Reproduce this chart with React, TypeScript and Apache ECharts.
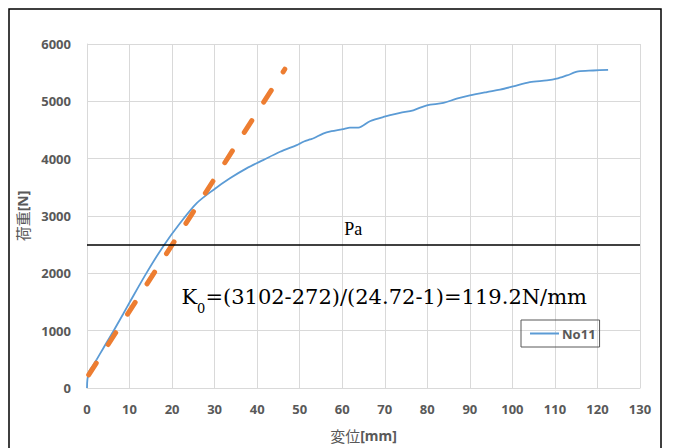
import { useEffect, useRef } from "react";
import * as echarts from "echarts";

// Displacement [mm] and load [N] of specimen No11
const dispX = [0, 0.1, 0.5, 1.5, 2.3, 3.8, 6.2, 8.5, 10.3, 14.0, 17.9, 21.9, 25.8, 29.7, 33.6, 37.5, 41.4, 45.4, 49.3, 50.1, 51.0, 52.4, 53.4, 55.5, 57.5, 59.5, 60.5, 61.8, 63.8, 66.5, 69.7, 73.6, 76.7, 79.9, 83.8, 86.9, 90.0, 94.0, 97.1, 100.2, 104.1, 108.1, 110.4, 112.8, 115.5, 119.0, 122.5];
const loadY = [0, 150, 290, 400, 500, 690, 990, 1290, 1530, 2008, 2470, 2877, 3224, 3455, 3657, 3830, 3975, 4120, 4236, 4266, 4300, 4335, 4360, 4438, 4480, 4507, 4520, 4542, 4542, 4653, 4728, 4797, 4844, 4931, 4971, 5047, 5104, 5162, 5203, 5260, 5335, 5364, 5394, 5451, 5521, 5538, 5550];

// Initial stiffness tangent line (K0)
const tangentX = [0.4, 46.5];
const tangentY = [230, 5560];

// Pa horizontal line
const paLoad = 2500;
const paSpanX = [0, 130];

// Axis ranges
const xRange = [0, 130];
const xStep = 10;
const yRange = [0, 6000];
const yStep = 1000;

// Annotation anchor points (data coords)
const paLabelAt = [62.6, 2778];
const k0LabelAt = [22.2, 1520];

const seriesName = "No11";
const xTitle = "変位";
const xUnit = "[mm]";
const yTitle = "荷重";
const yUnit = "[N]";
const k0Text = "=(3102-272)/(24.72-1)=119.2N/mm";

export default function App() {
  const ref = useRef<HTMLDivElement>(null);
  useEffect(() => {
    if (!ref.current) return;
    const chart = echarts.init(ref.current, undefined, { renderer: "svg" });
    const axisGray = "#595959";
    const gridGray = "#D9D9D9";
    const labelFont = "'Noto Sans', 'Liberation Sans', sans-serif";
    const serif = "'Liberation Serif', 'DejaVu Serif', serif";
    const wideSerif = "'DejaVu Serif', 'Liberation Serif', serif";
    chart.setOption({
      animation: false,
      backgroundColor: "#ffffff",
      grid: { left: 87, right: 35, top: 44, bottom: 59, containLabel: false },
      legend: {
        data: [seriesName],
        left: 521,
        top: 320,
        padding: [7, 4, 7, 9],
        borderColor: axisGray,
        borderWidth: 1,
        icon: "rect",
        itemWidth: 29,
        itemHeight: 2,
        itemGap: 0,
        textStyle: { color: axisGray, fontWeight: "bold", fontSize: 13, fontFamily: labelFont, padding: [0, 0, 0, -2] },
      },
      xAxis: {
        type: "value",
        min: xRange[0],
        max: xRange[1],
        interval: xStep,
        name: `{a|${xTitle}}{b|${xUnit}}`,
        nameLocation: "middle",
        nameGap: 40,
        nameTextStyle: {
          rich: {
            a: { fontSize: 15, color: axisGray, fontFamily: "'Noto Sans CJK JP', sans-serif" },
            b: { fontSize: 14, color: axisGray, fontWeight: "bold", fontFamily: labelFont },
          },
        },
        axisLine: { show: true, lineStyle: { color: gridGray, width: 1 } },
        axisTick: { show: false },
        axisLabel: { color: axisGray, fontWeight: "bold", fontSize: 13, fontFamily: labelFont, margin: 15 },
        splitLine: { show: true, lineStyle: { color: gridGray, width: 1 } },
      },
      yAxis: {
        type: "value",
        min: yRange[0],
        max: yRange[1],
        interval: yStep,
        name: `{a|${yTitle}}{b|${yUnit}}`,
        nameLocation: "middle",
        nameGap: 56,
        nameTextStyle: {
          rich: {
            a: { fontSize: 15, color: axisGray, fontFamily: "'Noto Sans CJK JP', sans-serif" },
            b: { fontSize: 14, color: axisGray, fontWeight: "bold", fontFamily: labelFont },
          },
        },
        axisLine: { show: true, lineStyle: { color: gridGray, width: 1 } },
        axisTick: { show: false },
        axisLabel: {
          color: axisGray,
          fontWeight: "bold",
          fontSize: 13,
          fontFamily: labelFont,
          margin: 16,
          formatter: (v: number) => String(v),
        },
        splitLine: { show: true, lineStyle: { color: gridGray, width: 1 } },
      },
      series: [
        {
          name: seriesName,
          type: "line",
          data: dispX.map((x, i) => [x, loadY[i]]),
          showSymbol: false,
          symbol: "none",
          smooth: 0.3,
          lineStyle: { color: "#5B9BD5", width: 1.8 },
          itemStyle: { color: "#5B9BD5" },
          z: 3,
        },
        {
          name: "K0",
          type: "line",
          data: tangentX.map((x, i) => [x, tangentY[i]]),
          showSymbol: false,
          symbol: "none",
          lineStyle: { color: "#ED7D31", width: 5, type: [14, 22], cap: "round" },
          z: 4,
          markLine: {
            silent: true,
            symbol: ["none", "none"],
            label: { show: false },
            lineStyle: { color: "#000000", width: 1.6, type: "solid" },
            data: [[{ coord: [paSpanX[0], paLoad] }, { coord: [paSpanX[1], paLoad] }]],
          },
          markPoint: {
            silent: true,
            symbol: "circle",
            symbolSize: 0,
            data: [
              {
                coord: paLabelAt,
                label: { show: true, position: "inside", formatter: "Pa", color: "#000", fontSize: 18, fontFamily: serif },
              },
              {
                coord: k0LabelAt,
                label: {
                  show: true,
                  position: "right",
                  distance: 0,
                  formatter: `{k|K}{s|0}{k|${k0Text}}`,
                  rich: {
                    k: { fontSize: 21, fontFamily: wideSerif, color: "#000", verticalAlign: "top", lineHeight: 21 },
                    s: { fontSize: 13, fontFamily: wideSerif, color: "#000", padding: [16, 0, 0, 0] },
                  },
                },
              },
            ],
          },
        },
      ],
      graphic: [
        {
          type: "rect",
          shape: { x: 9, y: 9, width: 652, height: 470 },
          style: { fill: "none", stroke: "#000000", lineWidth: 1.5 },
          silent: true,
          z: 100,
        },
      ],
    });
    return () => chart.dispose();
  }, []);
  return (
    <div style={{ position: "fixed", left: 0, top: 0, width: 675, height: 448, background: "#fff" }}>
      <div ref={ref} style={{ width: 675, height: 448 }} />
    </div>
  );
}
